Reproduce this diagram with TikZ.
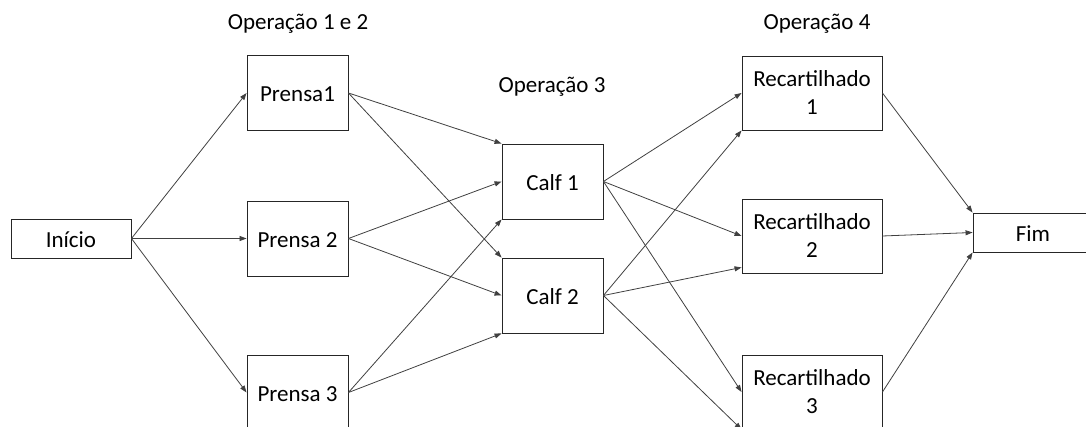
\documentclass[tikz,border=0pt]{standalone}
\usepackage{fontspec}
\setmainfont{Carlito}
\usetikzlibrary{arrows.meta,calc}

\tikzset{
  box/.style={draw=black!85, line width=0.9pt, fill=white, inner sep=0pt,
              minimum width=101pt, minimum height=75pt,
              text height=18pt, text depth=0pt},
  widebox/.style={draw=black!85, line width=0.9pt, fill=white, inner sep=0pt,
              minimum width=140pt, minimum height=74pt,
              align=center, text depth=0pt},
  endbox/.style={box, minimum width=120pt, minimum height=39pt},
  oplabel/.style={anchor=base, inner sep=0pt},
  flow/.style={draw=black!75, line width=0.8pt,
               -{Triangle[length=7pt,width=5pt]}}
}

\begin{document}
\begin{tikzpicture}[x=1pt, y=-1pt, font=\fontsize{23}{28}\selectfont]
\useasboundingbox (0,0) rectangle (1086,427);
\clip (0,0) rectangle (1086,427);

% stage headings
\node[oplabel] (h12) at (298,30) {Operação 1 e 2};
\node[oplabel] (h3)  at (552,93) {Operação 3};
\node[oplabel] (h4)  at (817,30) {Operação 4};

% start and end
\node[endbox] (ini) at (71,238.5) {Início};
\node[endbox] (fim) at (1033,232.5) {Fim};

% presses
\node[box] (p1) at (297.5,93)    {Prensa1};
\node[box] (p2) at (297.5,238.5) {Prensa 2};
\node[box] (p3) at (297.5,392.5) {Prensa 3};

% calf stations
\node[box] (c1) at (552.5,181.5) {Calf 1};
\node[box] (c2) at (552.5,295.5) {Calf 2};

% recartilhado stations
\node[widebox] (r1) at (812,93)  {Recartilhado\\1};
\node[widebox] (r2) at (812,236) {Recartilhado\\2};
\node[widebox] (r3) at (812,392) {Recartilhado\\3};

\coordinate (r2low) at ($(r2.south west)+(0,-6)$);

% Início -> presses
\draw[flow] (ini.east) -- (p1.west);
\draw[flow] (ini.east) -- (p2.west);
\draw[flow] (ini.east) -- (p3.west);

% presses -> calf
\draw[flow] (p1.east) -- (c1.north west);
\draw[flow] (p1.east) -- (c2.north west);
\draw[flow] (p2.east) -- (c1.west);
\draw[flow] (p2.east) -- (c2.west);
\draw[flow] (p3.east) -- (c1.south west);
\draw[flow] (p3.east) -- (c2.south west);

% calf -> recartilhado
\draw[flow] (c1.east) -- (r1.west);
\draw[flow] (c1.east) -- (r2.west);
\draw[flow] (c1.east) -- (r3.west);
\draw[flow] (c2.east) -- (r1.south west);
\draw[flow] (c2.east) -- (r2low);
\draw[flow] (c2.east) -- (r3.south west);

% recartilhado -> Fim
\draw[flow] (r1.east) -- (fim.north west);
\draw[flow] (r2.east) -- (fim.west);
\draw[flow] (r3.east) -- (fim.south west);
\end{tikzpicture}
\end{document}
